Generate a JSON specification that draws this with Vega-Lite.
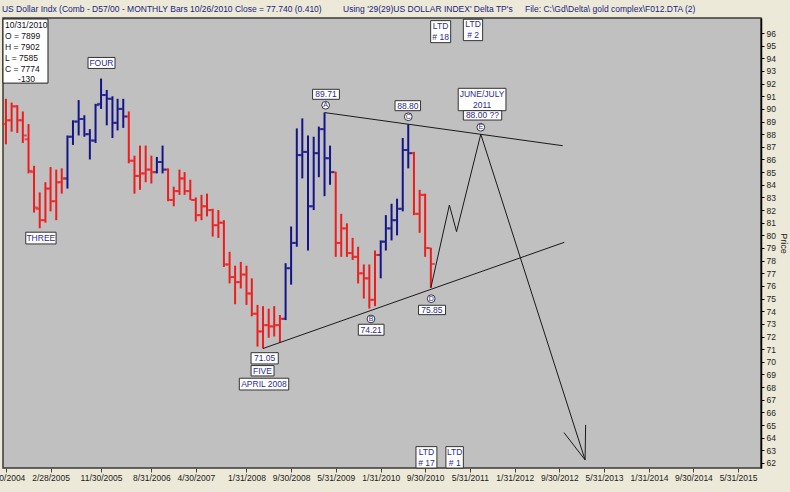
{
  "$schema": "https://vega.github.io/schema/vega-lite/v6.json",
  "width": 758,
  "height": 450,
  "autosize": {"type": "none"},
  "padding": {"left": 3, "top": 18, "right": 29, "bottom": 24},
  "background": "#ECE9D8",
  "config": {
    "font": "Liberation Sans",
    "view": {"fill": "#C0C0C0", "stroke": "#3a3a3a", "strokeWidth": 1.5},
    "axis": {"labelFont": "Liberation Sans", "titleFont": "Liberation Sans"},
    "axisY": {"labelOverlap": false, "labelSeparation": 0, "labelBound": false, "tickCount": 60, "format": "d"},
    "axisX": {"labelOverlap": false, "tickCount": 40}
  },
  "datasets": {
    "bars": [
      {"d": "2004-06-30", "o": 88.8, "h": 90.8, "l": 87.2, "c": 89.1, "t": "down"},
      {"d": "2004-07-31", "o": 89.1, "h": 90.5, "l": 88.2, "c": 90.2, "t": "down"},
      {"d": "2004-08-31", "o": 90.2, "h": 90.3, "l": 88.1, "c": 89.1, "t": "down"},
      {"d": "2004-09-30", "o": 89.1, "h": 89.8, "l": 87.3, "c": 87.9, "t": "down"},
      {"d": "2004-10-31", "o": 87.6, "h": 88.8, "l": 84.9, "c": 85.1, "t": "down"},
      {"d": "2004-11-30", "o": 85.0, "h": 85.5, "l": 81.8, "c": 82.2, "t": "down"},
      {"d": "2004-12-31", "o": 82.1, "h": 83.4, "l": 80.56, "c": 81.2, "t": "down"},
      {"d": "2005-01-31", "o": 81.2, "h": 84.2, "l": 81.0, "c": 83.7, "t": "down"},
      {"d": "2005-02-28", "o": 83.7, "h": 85.4, "l": 81.9, "c": 82.7, "t": "down"},
      {"d": "2005-03-31", "o": 82.7, "h": 85.2, "l": 81.2, "c": 84.2, "t": "down"},
      {"d": "2005-04-30", "o": 84.2, "h": 85.3, "l": 83.3, "c": 84.5, "t": "down"},
      {"d": "2005-05-31", "o": 84.5, "h": 87.9, "l": 83.7, "c": 87.8, "t": "up"},
      {"d": "2005-06-30", "o": 87.8, "h": 89.1, "l": 87.15, "c": 89.0, "t": "up"},
      {"d": "2005-07-31", "o": 89.0, "h": 90.7, "l": 87.9, "c": 89.2, "t": "up"},
      {"d": "2005-08-31", "o": 89.2, "h": 89.5, "l": 87.8, "c": 88.0, "t": "up"},
      {"d": "2005-09-30", "o": 88.0, "h": 88.4, "l": 86.0, "c": 87.5, "t": "up"},
      {"d": "2005-10-31", "o": 87.5, "h": 90.4, "l": 87.3, "c": 90.3, "t": "up"},
      {"d": "2005-11-30", "o": 90.4, "h": 92.4, "l": 90.0, "c": 91.1, "t": "up"},
      {"d": "2005-12-31", "o": 91.1, "h": 91.5, "l": 88.7, "c": 90.8, "t": "up"},
      {"d": "2006-01-31", "o": 90.8, "h": 91.0, "l": 87.7, "c": 88.9, "t": "up"},
      {"d": "2006-02-28", "o": 88.9, "h": 90.8, "l": 88.3, "c": 90.0, "t": "up"},
      {"d": "2006-03-31", "o": 90.0, "h": 90.8, "l": 88.5, "c": 89.4, "t": "up"},
      {"d": "2006-04-30", "o": 89.4, "h": 89.8, "l": 85.7, "c": 85.9, "t": "down"},
      {"d": "2006-05-31", "o": 85.9, "h": 86.3, "l": 83.3, "c": 84.7, "t": "down"},
      {"d": "2006-06-30", "o": 84.7, "h": 87.1, "l": 83.6, "c": 84.9, "t": "down"},
      {"d": "2006-07-31", "o": 84.9, "h": 87.1, "l": 84.2, "c": 85.2, "t": "down"},
      {"d": "2006-08-31", "o": 85.2, "h": 86.3, "l": 84.1, "c": 85.0, "t": "down"},
      {"d": "2006-09-30", "o": 85.0, "h": 86.2, "l": 84.9, "c": 85.8, "t": "up"},
      {"d": "2006-10-31", "o": 85.8, "h": 87.1, "l": 84.9, "c": 85.2, "t": "up"},
      {"d": "2006-11-30", "o": 85.2, "h": 85.3, "l": 82.7, "c": 82.8, "t": "down"},
      {"d": "2006-12-31", "o": 82.8, "h": 83.85, "l": 82.3, "c": 83.5, "t": "down"},
      {"d": "2007-01-31", "o": 83.5, "h": 85.2, "l": 83.2, "c": 84.5, "t": "down"},
      {"d": "2007-02-28", "o": 84.5, "h": 85.0, "l": 83.2, "c": 83.5, "t": "down"},
      {"d": "2007-03-31", "o": 83.5, "h": 84.4, "l": 82.8, "c": 82.8, "t": "down"},
      {"d": "2007-04-30", "o": 82.8, "h": 83.0, "l": 81.1, "c": 81.6, "t": "down"},
      {"d": "2007-05-31", "o": 81.6, "h": 83.2, "l": 81.2, "c": 82.3, "t": "down"},
      {"d": "2007-06-30", "o": 82.3, "h": 83.3, "l": 81.5, "c": 82.0, "t": "down"},
      {"d": "2007-07-31", "o": 82.0, "h": 82.1, "l": 79.9, "c": 80.8, "t": "down"},
      {"d": "2007-08-31", "o": 80.8, "h": 82.0, "l": 79.8, "c": 81.0, "t": "down"},
      {"d": "2007-09-30", "o": 81.0, "h": 81.2, "l": 77.5, "c": 77.7, "t": "down"},
      {"d": "2007-10-31", "o": 77.7, "h": 78.7, "l": 76.2, "c": 76.7, "t": "down"},
      {"d": "2007-11-30", "o": 76.7, "h": 77.6, "l": 74.55, "c": 76.3, "t": "down"},
      {"d": "2007-12-31", "o": 76.3, "h": 77.9, "l": 75.8, "c": 76.9, "t": "down"},
      {"d": "2008-01-31", "o": 76.9, "h": 77.6, "l": 74.5, "c": 75.4, "t": "down"},
      {"d": "2008-02-29", "o": 75.4, "h": 76.6, "l": 73.6, "c": 73.8, "t": "down"},
      {"d": "2008-03-31", "o": 73.8, "h": 74.5, "l": 71.2, "c": 72.4, "t": "down"},
      {"d": "2008-04-30", "o": 72.4, "h": 74.4, "l": 71.05, "c": 72.9, "t": "down"},
      {"d": "2008-05-31", "o": 72.9, "h": 74.2, "l": 71.9, "c": 72.8, "t": "down"},
      {"d": "2008-06-30", "o": 72.8, "h": 74.4, "l": 72.0, "c": 72.9, "t": "down"},
      {"d": "2008-07-31", "o": 72.9, "h": 73.7, "l": 71.5, "c": 73.4, "t": "down"},
      {"d": "2008-08-31", "o": 73.4, "h": 77.8, "l": 73.3, "c": 77.4, "t": "up"},
      {"d": "2008-09-30", "o": 77.4, "h": 80.7, "l": 76.1, "c": 79.4, "t": "up"},
      {"d": "2008-10-31", "o": 79.4, "h": 88.46, "l": 79.1, "c": 86.35, "t": "up"},
      {"d": "2008-11-30", "o": 86.35, "h": 89.25, "l": 84.5, "c": 86.6, "t": "up"},
      {"d": "2008-12-31", "o": 86.6, "h": 87.9, "l": 78.8, "c": 82.3, "t": "up"},
      {"d": "2009-01-31", "o": 82.3, "h": 87.8, "l": 82.0, "c": 86.5, "t": "up"},
      {"d": "2009-02-28", "o": 86.5, "h": 88.6, "l": 84.6, "c": 88.4, "t": "up"},
      {"d": "2009-03-31", "o": 88.4, "h": 89.71, "l": 83.1, "c": 86.1, "t": "up"},
      {"d": "2009-04-30", "o": 86.1, "h": 87.1, "l": 84.0, "c": 85.0, "t": "up"},
      {"d": "2009-05-31", "o": 85.0, "h": 85.03, "l": 78.3, "c": 79.4, "t": "down"},
      {"d": "2009-06-30", "o": 79.4, "h": 81.7, "l": 78.3, "c": 80.55, "t": "down"},
      {"d": "2009-07-31", "o": 80.55, "h": 80.95, "l": 78.3, "c": 78.6, "t": "down"},
      {"d": "2009-08-31", "o": 78.6, "h": 79.8, "l": 78.05, "c": 78.3, "t": "down"},
      {"d": "2009-09-30", "o": 78.3, "h": 79.1, "l": 76.2, "c": 77.0, "t": "down"},
      {"d": "2009-10-31", "o": 77.0, "h": 77.7, "l": 75.0, "c": 76.6, "t": "down"},
      {"d": "2009-11-30", "o": 76.6, "h": 77.7, "l": 74.21, "c": 74.9, "t": "down"},
      {"d": "2009-12-31", "o": 74.9, "h": 78.8, "l": 74.4, "c": 78.45, "t": "down"},
      {"d": "2010-01-31", "o": 78.45, "h": 79.6, "l": 76.6, "c": 79.5, "t": "up"},
      {"d": "2010-02-28", "o": 79.5, "h": 81.6, "l": 78.8, "c": 80.55, "t": "up"},
      {"d": "2010-03-31", "o": 80.55, "h": 82.5, "l": 79.6, "c": 81.2, "t": "up"},
      {"d": "2010-04-30", "o": 81.2, "h": 82.9, "l": 80.0, "c": 82.1, "t": "up"},
      {"d": "2010-05-31", "o": 82.1, "h": 87.7, "l": 81.9, "c": 86.75, "t": "up"},
      {"d": "2010-06-30", "o": 86.75, "h": 88.8, "l": 85.3, "c": 86.5, "t": "up"},
      {"d": "2010-07-31", "o": 86.5, "h": 86.6, "l": 81.6, "c": 81.7, "t": "down"},
      {"d": "2010-08-31", "o": 81.7, "h": 83.6, "l": 80.2, "c": 83.2, "t": "down"},
      {"d": "2010-09-30", "o": 83.2, "h": 83.3, "l": 78.3, "c": 79.0, "t": "down"},
      {"d": "2010-10-31", "o": 78.99, "h": 79.02, "l": 75.85, "c": 77.74, "t": "down"}
    ],
    "lines": [
      {"seg": "upper", "ord": 1, "d": "2009-03-31", "p": 89.71},
      {"seg": "upper", "ord": 2, "d": "2012-10-18", "p": 87.09},
      {"seg": "lower", "ord": 1, "d": "2008-04-30", "p": 71.05},
      {"seg": "lower", "ord": 2, "d": "2012-10-27", "p": 79.45},
      {"seg": "proj", "ord": 1, "d": "2010-10-31", "p": 75.85},
      {"seg": "proj", "ord": 2, "d": "2011-02-09", "p": 82.4},
      {"seg": "proj", "ord": 3, "d": "2011-03-20", "p": 80.29},
      {"seg": "proj", "ord": 4, "d": "2011-07-30", "p": 88.0},
      {"seg": "proj", "ord": 5, "d": "2013-02-17", "p": 62.24},
      {"seg": "proj", "ord": 6, "d": "2012-10-25", "p": 64.4},
      {"seg": "head", "ord": 1, "d": "2013-02-17", "p": 62.24},
      {"seg": "head", "ord": 2, "d": "2013-02-20", "p": 65.01}
    ],
    "boxes": [
      {"name": "FOUR", "x1": "2005-09-20", "x2": "2006-02-14", "y1": 94.07, "y2": 93.2},
      {"name": "THREE", "x1": "2004-10-16", "x2": "2005-03-30", "y1": 80.25, "y2": 79.32},
      {"name": "89.71", "x1": "2009-01-25", "x2": "2009-06-20", "y1": 91.55, "y2": 90.76},
      {"name": "88.80", "x1": "2010-04-19", "x2": "2010-09-05", "y1": 90.65, "y2": 89.86},
      {"name": "74.21", "x1": "2009-10-01", "x2": "2010-02-18", "y1": 72.97, "y2": 72.1},
      {"name": "75.85", "x1": "2010-08-25", "x2": "2011-01-19", "y1": 74.47, "y2": 73.73},
      {"name": "71.05", "x1": "2008-02-25", "x2": "2008-07-22", "y1": 70.72, "y2": 69.83},
      {"name": "FIVE", "x1": "2008-02-25", "x2": "2008-06-29", "y1": 69.7, "y2": 68.88},
      {"name": "APRIL 2008", "x1": "2007-12-23", "x2": "2008-09-17", "y1": 68.7, "y2": 67.77},
      {"name": "JUNE/JULY 2011", "x1": "2011-03-29", "x2": "2011-12-14", "y1": 91.63, "y2": 89.86},
      {"name": "88.00 ??", "x1": "2011-04-26", "x2": "2011-11-21", "y1": 89.86, "y2": 89.12},
      {"name": "LTD #18", "x1": "2010-10-30", "x2": "2011-02-16", "y1": 96.98, "y2": 95.24},
      {"name": "LTD #2", "x1": "2011-04-26", "x2": "2011-08-09", "y1": 97.09, "y2": 95.4},
      {"name": "LTD #17", "x1": "2010-08-11", "x2": "2010-12-03", "y1": 63.29, "y2": 61.6},
      {"name": "LTD #1", "x1": "2011-01-21", "x2": "2011-04-26", "y1": 63.29, "y2": 61.6}
    ],
    "labels": [
      {"txt": "FOUR", "d": "2005-12-02", "p": 93.63},
      {"txt": "THREE", "d": "2005-01-06", "p": 79.78},
      {"txt": "89.71", "d": "2009-04-08", "p": 91.16},
      {"txt": "88.80", "d": "2010-06-28", "p": 90.26},
      {"txt": "74.21", "d": "2009-12-10", "p": 72.54},
      {"txt": "75.85", "d": "2010-11-06", "p": 74.1},
      {"txt": "71.05", "d": "2008-05-09", "p": 70.28},
      {"txt": "FIVE", "d": "2008-04-27", "p": 69.29},
      {"txt": "APRIL 2008", "d": "2008-05-05", "p": 68.24},
      {"txt": "JUNE/JULY\n2011", "d": "2011-08-06", "p": 91.18},
      {"txt": "88.00 ??", "d": "2011-08-08", "p": 89.5},
      {"txt": "LTD\n# 18", "d": "2010-12-23", "p": 96.56},
      {"txt": "LTD\n# 2", "d": "2011-06-18", "p": 96.68},
      {"txt": "LTD\n# 17", "d": "2010-10-07", "p": 62.89},
      {"txt": "LTD\n# 1", "d": "2011-03-10", "p": 62.89}
    ],
    "points": [
      {"txt": "A", "d": "2009-04-06", "p": 90.29},
      {"txt": "C", "d": "2010-06-30", "p": 89.38},
      {"txt": "B", "d": "2009-12-09", "p": 73.39},
      {"txt": "D", "d": "2010-11-02", "p": 74.99},
      {"txt": "E", "d": "2011-07-30", "p": 88.55}
    ],
    "legendbox": [
      {"x1": "2004-06-14", "x2": "2005-02-14", "y1": 97.11, "y2": 92.04}
    ],
    "legend": [
      {"txt": "10/31/2010", "d": "2004-06-25", "p": 96.64},
      {"txt": "O = 7899", "d": "2004-06-25", "p": 95.77},
      {"txt": "H = 7902", "d": "2004-06-25", "p": 94.9},
      {"txt": "L = 7585", "d": "2004-06-25", "p": 94.03},
      {"txt": "C = 7774", "d": "2004-06-25", "p": 93.16},
      {"txt": "-130", "d": "2004-09-04", "p": 92.33}
    ],
    "header": [
      {"txt": "US Dollar Indx (Comb - D57/00  - MONTHLY Bars  10/26/2010 Close = 77.740 (0.410)", "d": "2004-06-08", "p": 97.7},
      {"txt": "Using '29(29)US DOLLAR INDEX' Delta TP's", "d": "2009-07-10", "p": 97.7},
      {"txt": "File: C:\\Gd\\Delta\\ gold complex\\F012.DTA (2)", "d": "2012-03-27", "p": 97.7}
    ]
  },
  "layer": [
    {
      "data": {"name": "bars"},
      "mark": {"type": "rule", "strokeWidth": 2},
      "encoding": {
        "x": {
          "field": "d", "type": "temporal",
          "scale": {"type": "utc", "domain": [{"year": 2004, "month": 6, "date": 14, "utc": true}, {"year": 2015, "month": 10, "date": 3, "utc": true}]},
          "axis": {
            "orient": "bottom", "title": null, "grid": false, "domain": false,
            "values": [
              {"year": 2004, "month": 6, "date": 30, "utc": true},
              {"year": 2005, "month": 2, "date": 28, "utc": true},
              {"year": 2005, "month": 11, "date": 30, "utc": true},
              {"year": 2006, "month": 8, "date": 31, "utc": true},
              {"year": 2007, "month": 4, "date": 30, "utc": true},
              {"year": 2008, "month": 1, "date": 31, "utc": true},
              {"year": 2008, "month": 9, "date": 30, "utc": true},
              {"year": 2009, "month": 5, "date": 31, "utc": true},
              {"year": 2010, "month": 1, "date": 31, "utc": true},
              {"year": 2010, "month": 9, "date": 30, "utc": true},
              {"year": 2011, "month": 5, "date": 31, "utc": true},
              {"year": 2012, "month": 1, "date": 31, "utc": true},
              {"year": 2012, "month": 9, "date": 30, "utc": true},
              {"year": 2013, "month": 5, "date": 31, "utc": true},
              {"year": 2014, "month": 1, "date": 31, "utc": true},
              {"year": 2014, "month": 9, "date": 30, "utc": true},
              {"year": 2015, "month": 5, "date": 31, "utc": true}
            ],
            "tickCount": 40,
            "labelExpr": "utcFormat(datum.value, '%-m/%-d/%Y')",
            "labelFlush": false, "labelOverlap": false,
            "tickSize": 4, "tickColor": "#444444", "labelFontSize": 8.5, "labelColor": "#222222", "labelPadding": 1
          }
        },
        "y": {
          "field": "h", "type": "quantitative",
          "scale": {"domain": [61.6, 97.19], "nice": false, "zero": false},
          "axis": {
            "orient": "right", "title": "Price", "grid": false,
            "values": [62,63,64,65,66,67,68,69,70,71,72,73,74,75,76,77,78,79,80,81,82,83,84,85,86,87,88,89,90,91,92,93,94,95,96],
            "tickCount": 60, "format": "d",
            "labelOverlap": false, "labelSeparation": 0,
            "tickSize": 3, "tickColor": "#000000", "domainColor": "#000000", "domainWidth": 1.5,
            "labelFontSize": 8.5, "labelColor": "#222222", "labelPadding": 2,
            "titleFontSize": 9, "titleFontWeight": "normal", "titleColor": "#222222", "titlePadding": 3
          }
        },
        "y2": {"field": "l"},
        "color": {"field": "t", "type": "nominal", "scale": {"domain": ["down", "up"], "range": ["#EE1C1C", "#14148A"]}, "legend": null}
      }
    },
    {
      "data": {"name": "bars"},
      "mark": {"type": "tick", "orient": "horizontal", "size": 3.5, "thickness": 2, "xOffset": -2.2},
      "encoding": {
        "x": {"field": "d", "type": "temporal"},
        "y": {"field": "o", "type": "quantitative", "axis": {"labelOverlap": false, "title": "Price", "format": "d"}},
        "color": {"field": "t", "type": "nominal", "legend": null}
      }
    },
    {
      "data": {"name": "bars"},
      "mark": {"type": "tick", "orient": "horizontal", "size": 3.5, "thickness": 2, "xOffset": 2.2},
      "encoding": {
        "x": {"field": "d", "type": "temporal"},
        "y": {"field": "c", "type": "quantitative", "axis": {"labelOverlap": false, "title": "Price", "format": "d"}},
        "color": {"field": "t", "type": "nominal", "legend": null}
      }
    },
    {
      "mark": {"type": "rule", "color": "#777777", "strokeWidth": 1.5},
      "encoding": {
        "x": {"datum": {"year": 2010, "month": 10, "date": 31, "utc": true}, "type": "temporal"}
      }
    },
    {
      "data": {"name": "lines"},
      "mark": {"type": "line", "color": "#1a1a1a", "strokeWidth": 1},
      "encoding": {
        "x": {"field": "d", "type": "temporal"},
        "y": {"field": "p", "type": "quantitative", "axis": {"labelOverlap": false, "title": "Price", "format": "d"}},
        "detail": {"field": "seg", "type": "nominal"},
        "order": {"field": "ord", "type": "quantitative"}
      }
    },
    {
      "data": {"name": "legendbox"},
      "mark": {"type": "rect", "fill": "#FFFFFF", "stroke": "#222222", "strokeWidth": 1},
      "encoding": {
        "x": {"field": "x1", "type": "temporal"},
        "x2": {"field": "x2"},
        "y": {"field": "y1", "type": "quantitative", "axis": {"labelOverlap": false, "title": "Price", "format": "d"}},
        "y2": {"field": "y2"}
      }
    },
    {
      "data": {"name": "legend"},
      "mark": {"type": "text", "align": "left", "baseline": "middle", "fontSize": 8.5, "color": "#111111"},
      "encoding": {
        "x": {"field": "d", "type": "temporal"},
        "y": {"field": "p", "type": "quantitative", "axis": {"labelOverlap": false, "title": "Price", "format": "d"}},
        "text": {"field": "txt", "type": "nominal"}
      }
    },
    {
      "data": {"name": "boxes"},
      "mark": {"type": "rect", "fill": "#FFFFFF", "stroke": "#333333", "strokeWidth": 1},
      "encoding": {
        "x": {"field": "x1", "type": "temporal"},
        "x2": {"field": "x2"},
        "y": {"field": "y1", "type": "quantitative", "axis": {"labelOverlap": false, "title": "Price", "format": "d"}},
        "y2": {"field": "y2"}
      }
    },
    {
      "data": {"name": "labels"},
      "mark": {"type": "text", "align": "center", "baseline": "middle", "fontSize": 8.5, "lineBreak": "\n", "lineHeight": 11, "color": "#2B2B95"},
      "encoding": {
        "x": {"field": "d", "type": "temporal"},
        "y": {"field": "p", "type": "quantitative", "axis": {"labelOverlap": false, "title": "Price", "format": "d"}},
        "text": {"field": "txt", "type": "nominal"}
      }
    },
    {
      "data": {"name": "points"},
      "mark": {"type": "point", "shape": "circle", "size": 60, "filled": false, "fill": "#FFFFFF", "fillOpacity": 1, "stroke": "#333333", "strokeWidth": 1, "opacity": 1},
      "encoding": {
        "x": {"field": "d", "type": "temporal"},
        "y": {"field": "p", "type": "quantitative", "axis": {"labelOverlap": false, "title": "Price", "format": "d"}}
      }
    },
    {
      "data": {"name": "points"},
      "mark": {"type": "text", "align": "center", "baseline": "middle", "fontSize": 7, "color": "#2B2B95"},
      "encoding": {
        "x": {"field": "d", "type": "temporal"},
        "y": {"field": "p", "type": "quantitative", "axis": {"labelOverlap": false, "title": "Price", "format": "d"}},
        "text": {"field": "txt", "type": "nominal"}
      }
    },
    {
      "data": {"name": "header"},
      "mark": {"type": "text", "align": "left", "baseline": "alphabetic", "fontSize": 8.5, "color": "#22227F"},
      "encoding": {
        "x": {"field": "d", "type": "temporal"},
        "y": {"field": "p", "type": "quantitative", "axis": {"labelOverlap": false, "title": "Price", "format": "d"}},
        "text": {"field": "txt", "type": "nominal"}
      }
    }
  ]
}
